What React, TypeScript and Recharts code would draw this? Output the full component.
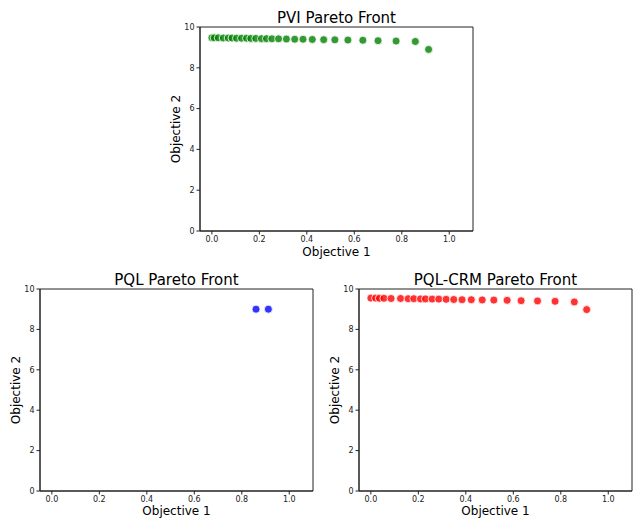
import React from "react";
import { ScatterChart, Scatter, XAxis, YAxis, ReferenceArea } from "recharts";

// tick labels shared by all three panels
const xTicks = [0, 0.2, 0.4, 0.6, 0.8, 1.0];
const yTicks = [0, 2, 4, 6, 8, 10];

// PVI front
const pviObjective1 = [0.0, 0.01, 0.027, 0.048, 0.069, 0.085, 0.104, 0.125, 0.146, 0.164, 0.185, 0.209, 0.23, 0.253, 0.281, 0.314, 0.349, 0.384, 0.423, 0.471, 0.518, 0.573, 0.636, 0.7, 0.776, 0.857, 0.913];
const pviObjective2 = [9.47, 9.47, 9.47, 9.46, 9.46, 9.46, 9.45, 9.45, 9.45, 9.44, 9.44, 9.43, 9.43, 9.42, 9.42, 9.41, 9.4, 9.4, 9.39, 9.38, 9.37, 9.36, 9.35, 9.33, 9.31, 9.29, 8.9];

// PQL front
const pqlObjective1 = [0.86, 0.912];
const pqlObjective2 = [9.0, 9.0];

// PQL-CRM front
const crmObjective1 = [0.0, 0.02, 0.036, 0.055, 0.085, 0.125, 0.157, 0.181, 0.209, 0.23, 0.258, 0.286, 0.317, 0.349, 0.384, 0.423, 0.469, 0.518, 0.574, 0.633, 0.702, 0.776, 0.857, 0.909];
const crmObjective2 = [9.55, 9.55, 9.54, 9.54, 9.53, 9.53, 9.52, 9.52, 9.51, 9.51, 9.5, 9.5, 9.49, 9.48, 9.47, 9.47, 9.46, 9.45, 9.44, 9.42, 9.41, 9.39, 9.36, 8.98];

const FONT = "'DejaVu Sans', sans-serif";
const X_DOMAIN = [-0.05, 1.1];
const Y_DOMAIN = [0, 10];

const toPoints = (xs: number[], ys: number[]) => xs.map((x, i) => ({ x, y: ys[i] }));

interface PlotProps {
    title: string;
    xs: number[];
    ys: number[];
    color: string;
    left: number;
    top: number;
    width: number;
    height: number;
    yAxisWidth: number;
    marginRight: number;
    xAxisHeight: number;
    xLabelOffset: number;
    yLabelX: number;
}

function ParetoPlot(p: PlotProps) {
    const plotTop = 27;
    const plotLeft = p.yAxisWidth;
    const plotWidth = p.width - plotLeft - p.marginRight;
    const tickStyle = { fontSize: 8, fill: "#222", fontFamily: FONT };

    return (
        <div style={{ position: "absolute", left: p.left, top: p.top, width: p.width, height: p.height }}>
            <div
                style={{
                    position: "absolute",
                    left: plotLeft,
                    width: plotWidth,
                    top: plotTop - 19,
                    height: 20,
                    lineHeight: "20px",
                    textAlign: "center",
                    fontFamily: FONT,
                    fontSize: 15,
                    color: "#000",
                }}
            >
                {p.title}
            </div>
            <ScatterChart
                width={p.width}
                height={p.height}
                margin={{ top: plotTop, right: p.marginRight, left: 0, bottom: 0 }}
            >
                <XAxis
                    type="number"
                    dataKey="x"
                    domain={X_DOMAIN}
                    ticks={xTicks}
                    allowDataOverflow
                    height={p.xAxisHeight}
                    tickFormatter={(v: number) => v.toFixed(1)}
                    tick={tickStyle}
                    tickSize={3.5}
                    tickMargin={2}
                    stroke="#222"
                    label={{ value: "Objective 1", position: "insideBottom", offset: p.xLabelOffset, style: { fontSize: 12, fill: "#000", fontFamily: FONT } }}
                />
                <YAxis
                    type="number"
                    dataKey="y"
                    domain={Y_DOMAIN}
                    ticks={yTicks}
                    allowDataOverflow
                    width={p.yAxisWidth}
                    tick={tickStyle}
                    tickSize={3.5}
                    tickMargin={2}
                    stroke="#222"
                    label={{ value: "Objective 2", angle: -90, position: "insideLeft", offset: p.yLabelX, textAnchor: "middle", style: { fontSize: 12, fill: "#000", fontFamily: FONT, textAnchor: "middle" } }}
                />
                {/* box round the axes */}
                <ReferenceArea x1={X_DOMAIN[0]} x2={X_DOMAIN[1]} y1={Y_DOMAIN[0]} y2={Y_DOMAIN[1]} fill="none" stroke="#222" strokeWidth={1} strokeOpacity={1} />
                <Scatter
                    data={toPoints(p.xs, p.ys)}
                    isAnimationActive={false}
                    shape={(s: any) => (
                        <circle cx={s.cx} cy={s.cy} r={4} fill={p.color} fillOpacity={0.8} stroke="#fff" strokeWidth={0.8} />
                    )}
                />
            </ScatterChart>
        </div>
    );
}

export default function App() {
    return (
        <div style={{ position: "absolute", left: 0, top: 0, width: 633, height: 518, background: "#fff", overflow: "hidden" }}>
            <ParetoPlot
                title="PVI Pareto Front"
                xs={pviObjective1}
                ys={pviObjective2}
                color="#008000"
                left={150}
                top={0}
                width={340}
                height={265}
                yAxisWidth={50}
                marginRight={17}
                xAxisHeight={34}
                xLabelOffset={9}
                yLabelX={26}
            />
            <ParetoPlot
                title="PQL Pareto Front"
                xs={pqlObjective1}
                ys={pqlObjective2}
                color="#0000ff"
                left={0}
                top={262}
                width={330}
                height={256}
                yAxisWidth={40}
                marginRight={17}
                xAxisHeight={27}
                xLabelOffset={3}
                yLabelX={16}
            />
            <ParetoPlot
                title="PQL-CRM Pareto Front"
                xs={crmObjective1}
                ys={crmObjective2}
                color="#ff0000"
                left={319}
                top={262}
                width={314}
                height={256}
                yAxisWidth={40}
                marginRight={1}
                xAxisHeight={27}
                xLabelOffset={3}
                yLabelX={16}
            />
        </div>
    );
}
